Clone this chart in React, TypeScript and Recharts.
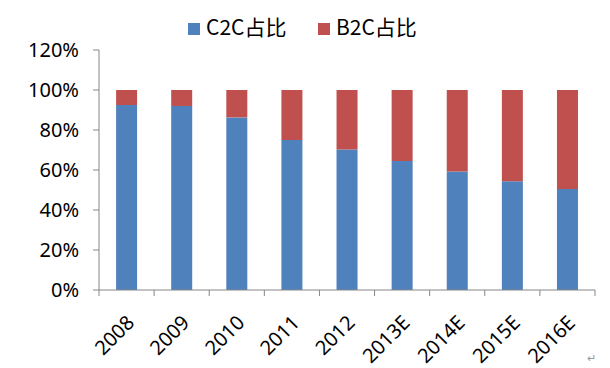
import { Bar, BarChart, XAxis, YAxis } from 'recharts'

const years = ['2008', '2009', '2010', '2011', '2012', '2013E', '2014E', '2015E', '2016E']
const c2cShare = [92.5, 92, 86.3, 75, 70.2, 64.5, 59.2, 54.4, 50.5]
const b2cShare = [7.5, 8, 13.7, 25, 29.8, 35.5, 40.8, 45.6, 49.5]
const yTicks = [0, 20, 40, 60, 80, 100, 120]
const seriesNames = ['C2C占比', 'B2C占比']

const COLORS = {
  c2c: '#4F81BD',
  b2c: '#C0504D',
  axis: '#868686',
  text: '#000000',
}

const FONT = '"Noto Sans", "Noto Sans CJK SC", sans-serif'
const CJK_FONT = '"Noto Sans CJK SC", sans-serif'

const data = years.map((year, i) => ({
  year,
  c2c: c2cShare[i],
  b2c: b2cShare[i],
}))

function YearTick(props: any) {
  const { x, y, payload, index } = props
  const half = payload?.offset ?? 27.5
  const ax = y - 8 // axis line sits above the tick anchor
  const px = x + 9
  const py = ax + 34
  return (
    <g>
      <line x1={x - half} y1={ax} x2={x - half} y2={ax + 6} stroke={COLORS.axis} />
      {index === years.length - 1 && (
        <line x1={x + half} y1={ax} x2={x + half} y2={ax + 6} stroke={COLORS.axis} />
      )}
      <text
        x={px}
        y={py}
        textAnchor="end"
        transform={`rotate(-45, ${px}, ${py})`}
        fontSize={20}
        fontFamily={FONT}
        fill={COLORS.text}
      >
        {payload.value}
      </text>
    </g>
  )
}

function LegendOverlay() {
  const items = [
    { label: seriesNames[0], color: COLORS.c2c, x: 188 },
    { label: seriesNames[1], color: COLORS.b2c, x: 318 },
  ]
  return (
    <svg width={610} height={50} style={{ position: 'absolute', left: 0, top: 0 }}>
      {items.map((it) => (
        <g key={it.label}>
          <rect x={it.x} y={23} width={12} height={12} fill={it.color} />
          <text x={it.x + 18} y={35} fontSize={21} fontFamily={CJK_FONT} fill={COLORS.text}>
            {it.label}
          </text>
        </g>
      ))}
    </svg>
  )
}

export default function App() {
  return (
    <div style={{ position: 'absolute', left: 0, top: 0, width: 610, height: 368, background: '#fff' }}>
      <BarChart
        width={610}
        height={368}
        data={data}
        margin={{ top: 50, right: 15, left: 0, bottom: 0 }}
        barCategoryGap="31%"
      >
        <XAxis
          dataKey="year"
          height={78}
          stroke={COLORS.axis}
          tickLine={false}
          interval={0}
          tick={<YearTick />}
        />
        <YAxis
          width={99}
          domain={[0, 120]}
          ticks={yTicks}
          tickFormatter={(v) => `${v}%`}
          stroke={COLORS.axis}
          tickSize={6}
          tickMargin={14}
          tick={{ fontSize: 20, fontFamily: FONT, fill: COLORS.text }}
        />
        <Bar dataKey="c2c" name={seriesNames[0]} stackId="s" fill={COLORS.c2c} isAnimationActive={false} />
        <Bar dataKey="b2c" name={seriesNames[1]} stackId="s" fill={COLORS.b2c} isAnimationActive={false} />
      </BarChart>
      <LegendOverlay />
      <span style={{ position: 'absolute', left: 587, top: 350, fontSize: 11, color: '#999', fontFamily: FONT }}>↵</span>
    </div>
  )
}
